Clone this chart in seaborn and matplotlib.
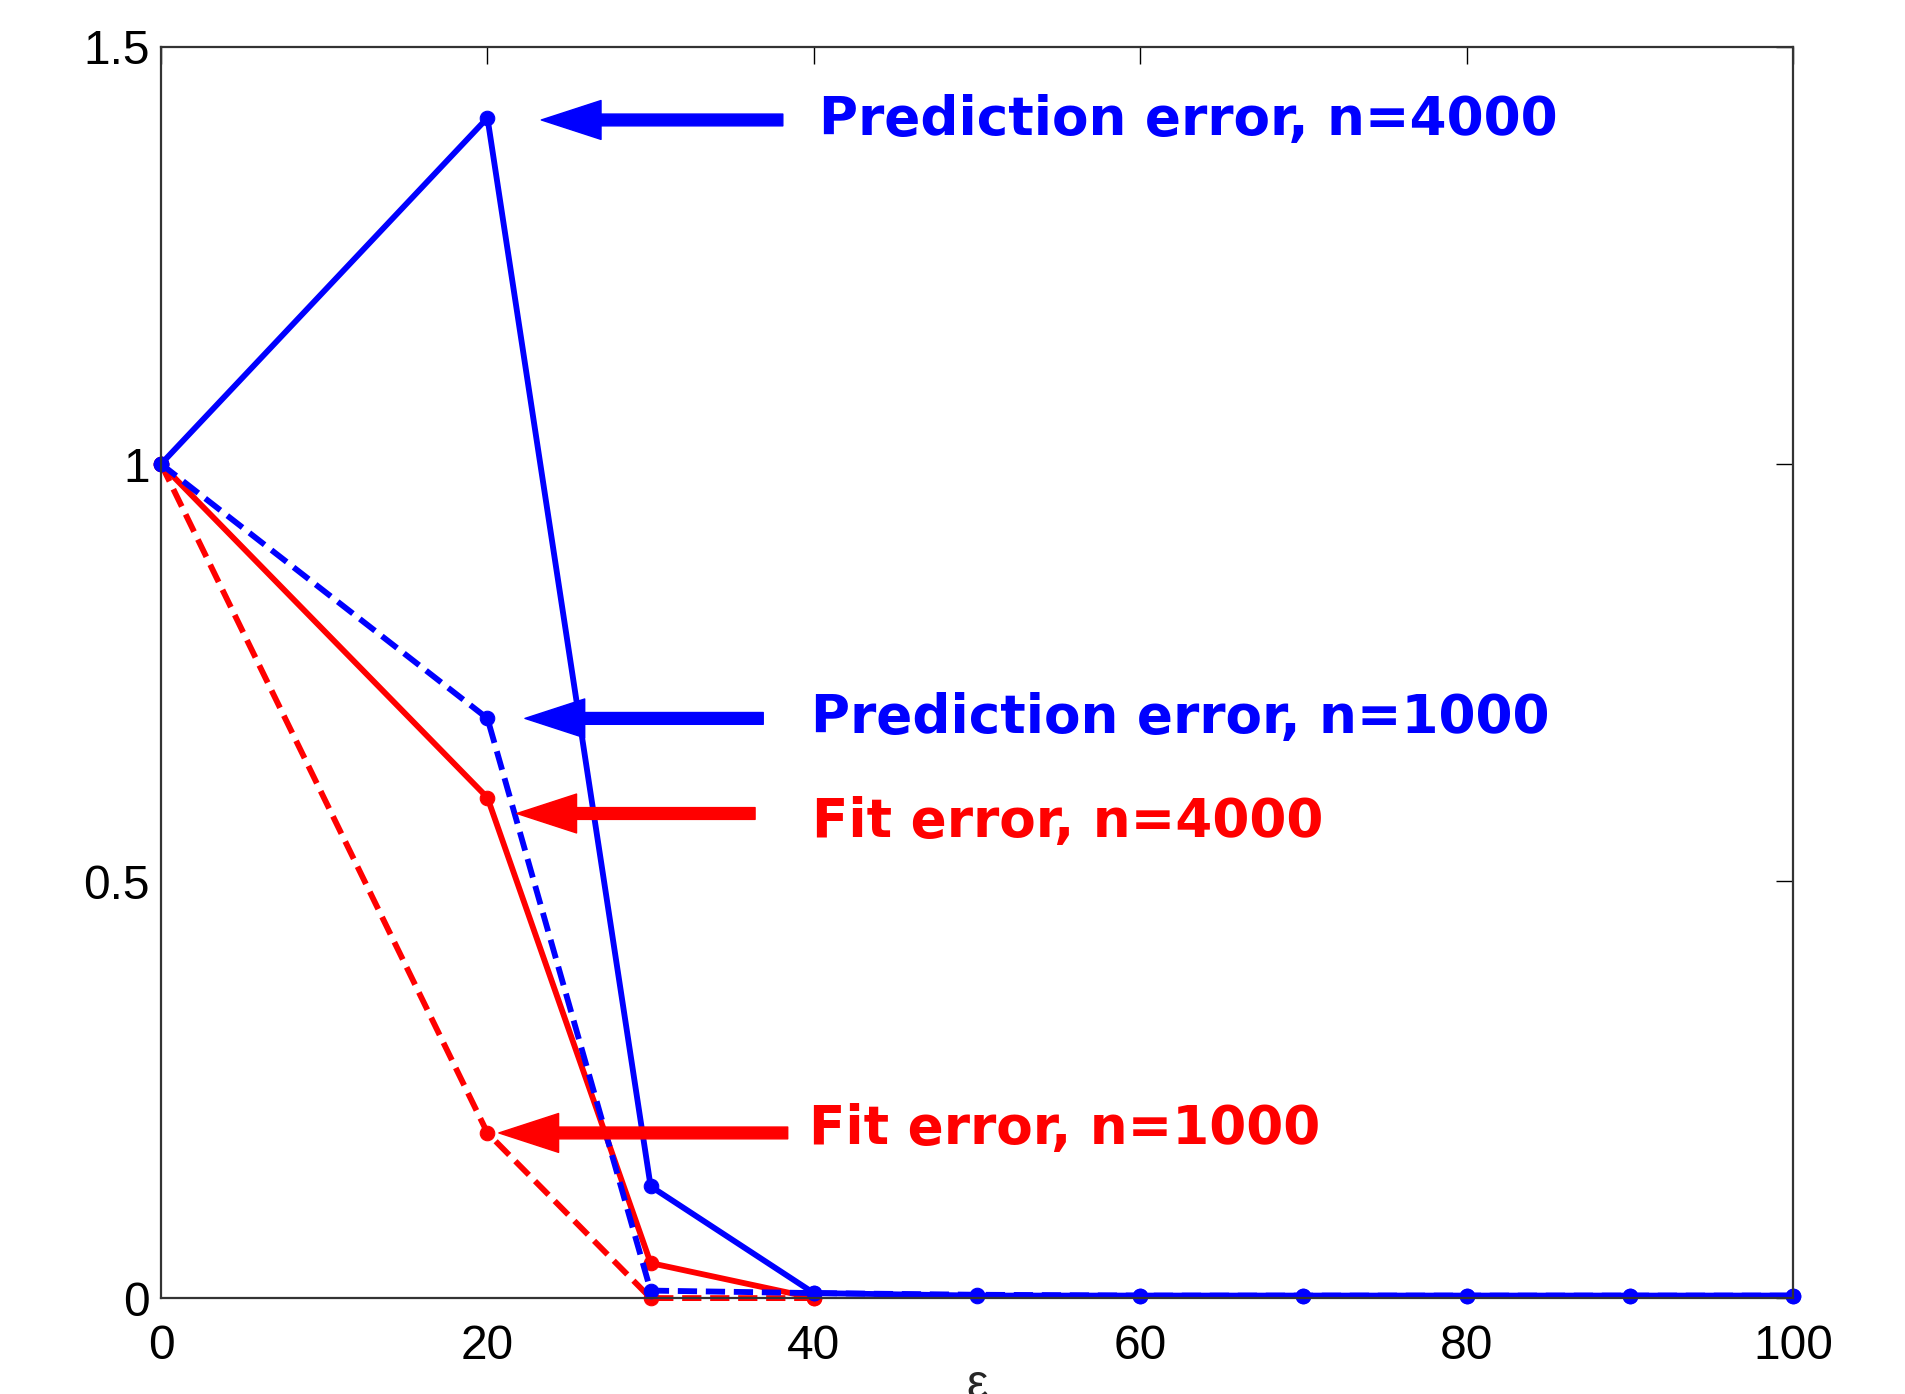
import matplotlib
matplotlib.use("Agg")
import matplotlib.pyplot as plt
import seaborn as sns

# ---- data ----
eps = [0, 20, 30, 40, 50, 60, 70, 80, 90, 100]
pred_4000 = [1.0, 1.415, 0.134, 0.006, 0.003, 0.003, 0.003, 0.003, 0.003, 0.003]
pred_1000 = [1.0, 0.695, 0.009, 0.006, 0.004, 0.003, 0.003, 0.003, 0.003, 0.003]
eps_fit = [0, 20, 30, 40]
fit_4000 = [1.0, 0.600, 0.042, 0.0]
fit_1000 = [1.0, 0.198, 0.0, 0.0]

x_ticks = [0, 20, 40, 60, 80, 100]
x_ticklabels = ["0", "20", "40", "60", "80", "100"]
y_ticks = [0, 0.5, 1, 1.5]
y_ticklabels = ["0", "0.5", "1", "1.5"]

labels = ["Prediction error, n=4000", "Prediction error, n=1000",
          "Fit error, n=4000", "Fit error, n=1000"]

sns.set_style("white")
plt.rcParams["font.family"] = ["Liberation Sans", "DejaVu Sans"]

fig = plt.figure(figsize=(19.06, 13.94), dpi=100)
ax = fig.add_axes([0.0845, 0.0688, 0.8562, 0.8975])

BLUE = "#0000ff"
RED = "#ff0000"
LW = 4.2
MS = 10.5
dash = (3.3, 1.5)

series = [
    (eps_fit, fit_1000, RED, True),
    (eps_fit, fit_4000, RED, False),
    (eps, pred_1000, BLUE, True),
    (eps, pred_4000, BLUE, False),
]
for xs, ys, c, dashed in series:
    sns.lineplot(x=xs, y=ys, ax=ax, color=c, marker="o")
    ln = ax.lines[-1]
    ln.set_linewidth(LW)
    ln.set_markersize(MS)
    ln.set_markeredgecolor(c)
    ln.set_markerfacecolor(c)
    ln.set_clip_on(False)
    if dashed:
        ln.set_dashes(dash)

ax.set_xlim(0, 100)
ax.set_ylim(0, 1.5)
ax.set_xticks(x_ticks)
ax.set_xticklabels(x_ticklabels)
ax.set_yticks(y_ticks)
ax.set_yticklabels(y_ticklabels)
ax.tick_params(direction="in", length=12, width=1.0, labelsize=34.5,
               top=True, right=True, colors="black")
ax.tick_params(axis="x", pad=19)
ax.tick_params(axis="y", pad=8)
for s in ax.spines.values():
    s.set_visible(True)
    s.set_color("#333333")
    s.set_linewidth(1.6)
ax.set_xlabel("ε", fontsize=34.5, labelpad=-5)

# annotations: (arrow tip x, tail x, y, text x, text y, colour)
ann = [
    (23.3, 38.1, 1.4125, 40.3, 1.4125, BLUE),
    (22.3, 36.9, 0.695, 39.8, 0.695, BLUE),
    (21.8, 36.4, 0.581, 39.9, 0.571, RED),
    (20.7, 38.4, 0.198, 39.7, 0.203, RED),
]
for lab, (tip, tail, y, tx, ty, c) in zip(labels, ann):
    ax.annotate("", xy=(tip, y), xytext=(tail, y),
                arrowprops=dict(width=8.5, headwidth=28, headlength=43,
                                color=c, shrink=0))
    ax.text(tx, ty, lab, color=c, fontsize=38.3, fontweight="bold",
            family="DejaVu Sans", va="center", ha="left")

fig.savefig("out.png", dpi=100)
